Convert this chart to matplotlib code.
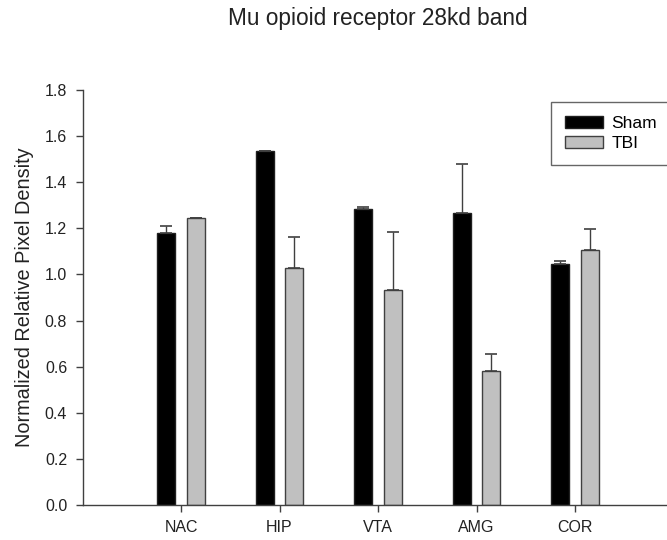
import matplotlib
matplotlib.use("Agg")
import matplotlib.pyplot as plt
import numpy as np
from matplotlib.patches import Patch

categories = ["NAC", "HIP", "VTA", "AMG", "COR"]
sham = [1.181, 1.534, 1.282, 1.265, 1.046]
sham_err = [0.030, 0.0, 0.009, 0.212, 0.011]
tbi = [1.246, 1.026, 0.932, 0.582, 1.107]
tbi_err = [0.0, 0.138, 0.252, 0.073, 0.090]
yticks = [0.0, 0.2, 0.4, 0.6, 0.8, 1.0, 1.2, 1.4, 1.6, 1.8]

plt.rcParams['font.family'] = ['Liberation Sans', 'DejaVu Sans']

W, H = 667, 540
fig = plt.figure(figsize=(W/100, H/100), dpi=100)
left, bottom, top = 82.5, 505, 90
unit = 98.5
xmax = 6.0
ax = fig.add_axes([left/W, (H-bottom)/H, xmax*unit/W, (bottom-top)/H])

x = np.arange(1, len(categories)+1)
bw = 0.183
off = 0.15
ecol = '#404040'
ax.bar(x-off, sham, bw, color='black', edgecolor='#202020', linewidth=1.0, zorder=2)
ax.bar(x+off, tbi, bw, color='#c0c0c0', edgecolor='#404040', linewidth=1.0, zorder=2)
ax.errorbar(x-off, sham, yerr=[np.zeros(5), sham_err], fmt='none', ecolor=ecol,
            elinewidth=1.0, capsize=4.3, capthick=1.2, zorder=3)
ax.errorbar(x+off, tbi, yerr=[np.zeros(5), tbi_err], fmt='none', ecolor=ecol,
            elinewidth=1.0, capsize=4.3, capthick=1.2, zorder=3)

ax.set_xlim(0, xmax)
ax.set_ylim(0, 1.8)
ax.set_xticks(x)
ax.set_xticklabels(categories)
ax.set_yticks(yticks)
ax.set_yticklabels([f"{v:.1f}" for v in yticks])
for s in ['top', 'right']:
    ax.spines[s].set_visible(False)
for s in ['left', 'bottom']:
    ax.spines[s].set_color('#404040')
    ax.spines[s].set_linewidth(1.0)
ax.tick_params(axis='both', direction='out', length=5, width=1.0, color='#404040',
               labelsize=11.5, labelcolor='#222222')
ax.tick_params(axis='y', pad=6)
ax.tick_params(axis='x', pad=6)
ax.set_ylabel("Normalized Relative Pixel Density", fontsize=14.3, color='#222222', labelpad=8)

fig.text(377.5/W, 1-19/H, "Mu opioid receptor 28kd band", ha='center', va='center',
         fontsize=16.3, color='#222222')

handles = [Patch(facecolor='black', edgecolor='#202020', label='Sham'),
           Patch(facecolor='#c0c0c0', edgecolor='#404040', label='TBI')]
leg = fig.legend(handles=handles, loc='upper left',
                 bbox_to_anchor=(551/W, 1-164.3/H, 160/W, 62.6/H), mode='expand',
                 frameon=True, fancybox=False, edgecolor='#404040', fontsize=12.5,
                 handlelength=2.2, handleheight=0.65, borderpad=0.82, labelspacing=0.3,
                 handletextpad=0.46, borderaxespad=0)
leg.get_frame().set_linewidth(1.0)

fig.savefig("out.png", dpi=100)
